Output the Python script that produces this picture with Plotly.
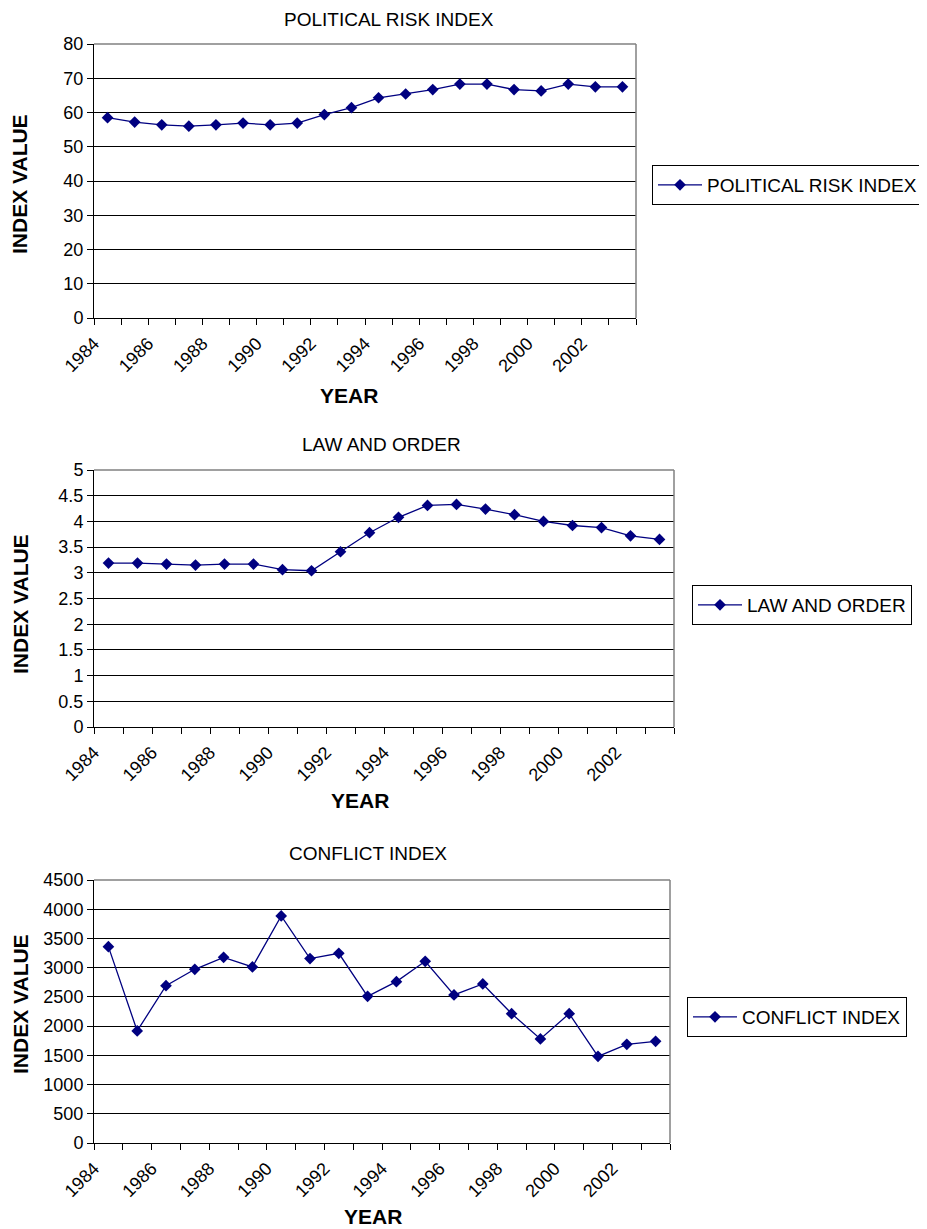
import plotly.graph_objects as go

# ---------------- data ----------------
years = [1984, 1985, 1986, 1987, 1988, 1989, 1990, 1991, 1992, 1993,
         1994, 1995, 1996, 1997, 1998, 1999, 2000, 2001, 2002, 2003]
political_risk = [58.5, 57.2, 56.4, 56.0, 56.4, 56.9, 56.4, 56.9, 59.4, 61.4,
                  64.3, 65.4, 66.7, 68.3, 68.3, 66.7, 66.3, 68.3, 67.5, 67.5]
law_order = [3.19, 3.19, 3.17, 3.15, 3.17, 3.17, 3.06, 3.04, 3.41, 3.78,
             4.08, 4.31, 4.33, 4.24, 4.13, 4.00, 3.92, 3.88, 3.72, 3.65]
conflict = [3360, 1917, 2692, 2972, 3177, 3012, 3885, 3155, 3246, 2510,
            2761, 3109, 2533, 2721, 2213, 1780, 2213, 1483, 1689, 1740]
x_tick_labels = ["1984", "1986", "1988", "1990", "1992",
                 "1994", "1996", "1998", "2000", "2002"]
series_names = ["POLITICAL RISK INDEX", "LAW AND ORDER", "CONFLICT INDEX"]
y_title = "INDEX VALUE"
x_title = "YEAR"

# ---------------- layout helpers ----------------
PAGE_MARGIN = 8            # default body margin of the html page
W, H = 927 - PAGE_MARGIN, 1229 - PAGE_MARGIN
FONT = "Liberation Sans, Arial, sans-serif"
NAVY = "#000080"


def fx(x):
    return (x - PAGE_MARGIN) / W


def fy(y):
    return 1 - (y - PAGE_MARGIN) / H


panels = [
    dict(values=political_risk, box=(94, 636, 44, 318), yrange=[0, 80], dtick=10,
         title_xy=(389, 19), ytitle_y=184, year_xy=(349, 396), legend_xy=(652, 165)),
    dict(values=law_order, box=(94, 674, 470, 727), yrange=[0, 5], dtick=0.5,
         title_xy=(381, 444), ytitle_y=604, year_xy=(360, 800), legend_xy=(692, 585)),
    dict(values=conflict, box=(94, 670, 880, 1143), yrange=[0, 4500], dtick=500,
         title_xy=(368, 853), ytitle_y=1004, year_xy=(373, 1216), legend_xy=(687, 997)),
]

# category labels sit at the left edge of their category slot
tick_vals = [int(t) - 0.5 for t in x_tick_labels]
boundaries = [y - 0.5 for y in years] + [years[-1] + 0.5]

fig = go.Figure()
layout = dict(
    template="none",
    width=W, height=H, margin=dict(l=0, r=0, t=0, b=0, pad=0, autoexpand=False),
    paper_bgcolor="white", plot_bgcolor="white",
    font=dict(family=FONT, color="black"),
    showlegend=True, annotations=[], shapes=[],
)

for i, (p, name) in enumerate(zip(panels, series_names), start=1):
    s = "" if i == 1 else str(i)
    x0, x1, y0, y1 = p["box"]
    fig.add_trace(go.Scatter(
        x=years, y=p["values"], mode="lines+markers", name=name,
        xaxis="x" + s, yaxis="y" + s, legend="legend" + s,
        line=dict(color=NAVY, width=1.3),
        marker=dict(symbol="diamond", size=9, color=NAVY),
    ))
    layout["xaxis" + s] = dict(
        domain=[fx(x0), fx(x1)], anchor="y" + s, automargin=False,
        range=[boundaries[0], boundaries[-1]],
        tickmode="array", tickvals=tick_vals, ticktext=x_tick_labels,
        tickangle=-45, ticks="", ticklabelstandoff=7,
        showgrid=False, zeroline=False,
        showline=True, linecolor="black", linewidth=1,
        tickfont=dict(family=FONT, size=18, color="black"),
        minor=dict(tickmode="array", tickvals=boundaries, ticks="outside",
                   ticklen=6, tickcolor="black", tickwidth=1, showgrid=False),
    )
    layout["yaxis" + s] = dict(
        domain=[fy(y1), fy(y0)], anchor="x" + s, automargin=False,
        range=p["yrange"], tick0=0, dtick=p["dtick"],
        showgrid=True, gridcolor="black", gridwidth=1, zeroline=False,
        showline=True, linecolor="black", linewidth=1,
        ticks="outside", ticklen=6, tickcolor="black",
        tickfont=dict(family=FONT, size=18, color="black"),
    )
    # gray plot-area border on top and right
    layout["shapes"] += [
        dict(type="line", xref=f"x{s} domain", yref=f"y{s} domain",
             x0=0, x1=1, y0=1, y1=1, line=dict(color="#808080", width=1.5), layer="above"),
        dict(type="line", xref=f"x{s} domain", yref=f"y{s} domain",
             x0=1, x1=1, y0=0, y1=1, line=dict(color="#808080", width=1.5), layer="above"),
    ]
    tx, ty = p["title_xy"]
    layout["annotations"] += [
        dict(text=name, x=fx(tx), y=fy(ty), xref="paper", yref="paper",
             xanchor="center", yanchor="middle", showarrow=False, borderpad=0,
             font=dict(family=FONT, size=19, color="black")),
        dict(text=f"<b>{y_title}</b>", x=fx(20), y=fy(p["ytitle_y"]), xref="paper", yref="paper",
             xanchor="center", yanchor="middle", textangle=-90, showarrow=False, borderpad=0,
             font=dict(family=FONT, size=21, color="black")),
        dict(text=f"<b>{x_title}</b>", x=fx(p["year_xy"][0]), y=fy(p["year_xy"][1]),
             xref="paper", yref="paper", xanchor="center", yanchor="middle", showarrow=False,
             borderpad=0, font=dict(family=FONT, size=21, color="black")),
    ]
    lx, ly = p["legend_xy"]
    layout["legend" + s] = dict(
        x=fx(lx), y=fy(ly), xref="paper", yref="paper", xanchor="left", yanchor="top",
        bordercolor="black", borderwidth=1, bgcolor="white",
        font=dict(family=FONT, size=19, color="black"),
        tracegroupgap=0, itemwidth=44,
    )

fig.update_layout(**layout)
fig.write_html("out.html")
